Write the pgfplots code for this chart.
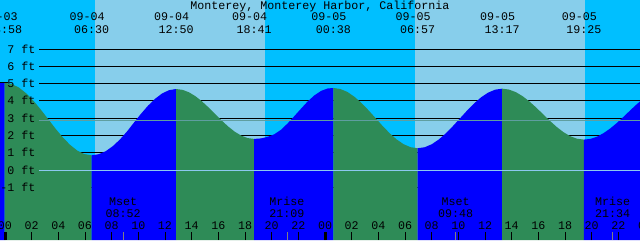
\documentclass[border=0pt]{standalone}
\usepackage{pgfplots}
\pgfplotsset{compat=1.18}
\usepackage{fontspec}
\setmainfont{Liberation Mono}
\definecolor{night}{RGB}{0,191,255}
\definecolor{day}{RGB}{135,206,235}
\definecolor{flood}{RGB}{0,0,255}
\definecolor{ebb}{RGB}{46,139,87}
\definecolor{msl}{RGB}{95,158,160}
\definecolor{datum}{RGB}{140,200,240}
\begin{document}
\begin{tikzpicture}[font=\fontsize{8.75}{10}\selectfont]
\useasboundingbox (0,0) rectangle (480pt,180pt);
\clip (0,0) rectangle (480pt,180pt);
\begin{axis}[
  at={(0,0)}, anchor=south west,
  scale only axis, width=480pt, height=180pt,
  xmin=-0.375, xmax=47.625, ymin=-4.053, ymax=9.844,
  axis background/.style={fill=night},
  axis line style={draw=none},
  axis on top,
  ytick=\empty,
  xtick={0,2,...,46},
  xticklabels={00,02,04,06,08,10,12,14,16,18,20,22,00,02,04,06,08,10,12,14,16,18,20,22},
  xtick pos=left,
  tick align=inside,
  major tick length=6pt,
  minor tick length=6pt,
  minor xtick={8.867,21.15,33.8,45.567},
  every minor tick/.append style={gray, line width=0.75pt},
  every major tick/.append style={black, line width=0.75pt},
  extra x ticks={0,24},
  extra x tick labels={,},
  extra x tick style={every major tick/.append style={line width=2.25pt}},
  xticklabel style={anchor=base, yshift=8pt, inner sep=0pt, text=black},
]
% daylight
\addplot[fill=day, draw=none] coordinates {(6.75,-4.053) (6.75,9.844) (19.5,9.844) (19.5,-4.053)} -- cycle;
\addplot[fill=day, draw=none] coordinates {(30.75,-4.053) (30.75,9.844) (43.5,9.844) (43.5,-4.053)} -- cycle;
% level lines
\addplot[black, line width=0.75pt] coordinates {(2.55,-1) (47.625,-1)};
\addplot[black, line width=0.75pt] coordinates {(2.55,0) (47.625,0)};
\addplot[black, line width=0.75pt] coordinates {(2.55,1) (47.625,1)};
\addplot[black, line width=0.75pt] coordinates {(2.55,2) (47.625,2)};
\addplot[black, line width=0.75pt] coordinates {(2.55,3) (47.625,3)};
\addplot[black, line width=0.75pt] coordinates {(2.55,4) (47.625,4)};
\addplot[black, line width=0.75pt] coordinates {(2.55,5) (47.625,5)};
\addplot[black, line width=0.75pt] coordinates {(2.55,6) (47.625,6)};
\addplot[black, line width=0.75pt] coordinates {(2.55,7) (47.625,7)};
% water: rising (flood) blue, falling (ebb) green
\addplot[fill=flood, draw=none] coordinates {(-0.375,-4.053) (-0.375,5.03) (-0.2,5.045) (-0.033,5.05) (-0.033,-4.053)} -- cycle;
\addplot[fill=ebb, draw=none] coordinates {(-0.033,-4.053) (-0.033,5.05) (0.511,4.978) (1.056,4.769) (1.600,4.435) (2.145,4.00) (2.689,3.494) (3.234,2.95) (3.778,2.407) (4.322,1.90) (4.867,1.465) (5.411,1.131) (5.956,0.922) (6.5,0.85) (6.5,-4.053)} -- cycle;
\addplot[fill=flood, draw=none] coordinates {(6.5,-4.053) (6.5,0.85) (7.028,0.915) (7.556,1.09) (8.083,1.38) (8.611,1.76) (9.139,2.22) (9.667,2.74) (10.194,3.25) (10.722,3.72) (11.25,4.12) (11.778,4.43) (12.306,4.625) (12.833,4.69) (12.833,-4.053)} -- cycle;
\addplot[fill=ebb, draw=none] coordinates {(12.833,-4.053) (12.833,4.69) (13.321,4.641) (13.808,4.496) (14.296,4.267) (14.783,3.968) (15.271,3.619) (15.758,3.245) (16.246,2.871) (16.733,2.523) (17.221,2.223) (17.708,1.994) (18.196,1.849) (18.683,1.80) (18.683,-4.053)} -- cycle;
\addplot[fill=flood, draw=none] coordinates {(18.683,-4.053) (18.683,1.80) (19.2,1.83) (19.7,1.92) (20.2,2.07) (20.7,2.33) (21.2,2.70) (21.7,3.12) (22.2,3.55) (22.7,3.97) (23.2,4.32) (23.7,4.58) (24.2,4.72) (24.633,4.75) (24.633,-4.053)} -- cycle;
\addplot[fill=ebb, draw=none] coordinates {(24.633,-4.053) (24.633,4.75) (25.159,4.69) (25.686,4.516) (26.212,4.239) (26.739,3.878) (27.265,3.457) (27.792,3.005) (28.318,2.553) (28.845,2.133) (29.371,1.771) (29.897,1.494) (30.424,1.32) (30.95,1.26) (30.95,-4.053)} -- cycle;
\addplot[fill=flood, draw=none] coordinates {(30.95,-4.053) (30.95,1.26) (31.478,1.319) (32.006,1.491) (32.533,1.765) (33.061,2.123) (33.589,2.539) (34.117,2.985) (34.644,3.431) (35.172,3.848) (35.7,4.205) (36.228,4.479) (36.756,4.651) (37.283,4.71) (37.283,-4.053)} -- cycle;
\addplot[fill=ebb, draw=none] coordinates {(37.283,-4.053) (37.283,4.71) (37.794,4.66) (38.305,4.512) (38.816,4.278) (39.328,3.973) (39.839,3.617) (40.35,3.235) (40.861,2.853) (41.372,2.498) (41.883,2.192) (42.394,1.958) (42.906,1.81) (43.417,1.76) (43.417,-4.053)} -- cycle;
\addplot[fill=flood, draw=none] coordinates {(43.417,-4.053) (43.417,1.76) (43.9,1.80) (44.4,1.93) (44.9,2.14) (45.4,2.41) (45.9,2.73) (46.4,3.09) (46.9,3.46) (47.4,3.82) (47.625,3.97) (47.625,-4.053)} -- cycle;
% mean sea level and datum lines
\addplot[msl, line width=0.75pt] coordinates {(2.55,2.88) (47.625,2.88)};
\addplot[datum, line width=0.75pt] coordinates {(2.55,0) (47.625,0)};
% high-water marker at left edge
\addplot[black, line width=0.75pt] coordinates {(-0.375,5.06) (0.225,5.06)};
% level labels
\node[anchor=base east, inner sep=0pt] at (axis cs:2.29,6.768) {7 ft};
\node[anchor=base east, inner sep=0pt] at (axis cs:2.29,5.768) {6 ft};
\node[anchor=base east, inner sep=0pt] at (axis cs:2.29,4.768) {5 ft};
\node[anchor=base east, inner sep=0pt] at (axis cs:2.29,3.768) {4 ft};
\node[anchor=base east, inner sep=0pt] at (axis cs:2.29,2.768) {3 ft};
\node[anchor=base east, inner sep=0pt] at (axis cs:2.29,1.768) {2 ft};
\node[anchor=base east, inner sep=0pt] at (axis cs:2.29,0.768) {1 ft};
\node[anchor=base east, inner sep=0pt] at (axis cs:2.29,-0.232) {0 ft};
\node[anchor=base east, inner sep=0pt] at (axis cs:2.29,-1.232) {-1 ft};
% title
\node[anchor=base, inner sep=0pt] at (axis cs:23.625,9.305) {Monterey, Monterey Harbor, California};
% tide event labels
\node[anchor=base, inner sep=0pt, xshift=-3.4pt] at (axis cs:-0.033,8.685) {09-03};
\node[anchor=base, inner sep=0pt] at (axis cs:-0.033,7.933) {23:58};
\node[anchor=base, inner sep=0pt, xshift=-3.4pt] at (axis cs:6.5,8.685) {09-04};
\node[anchor=base, inner sep=0pt] at (axis cs:6.5,7.933) {06:30};
\node[anchor=base, inner sep=0pt, xshift=-3.4pt] at (axis cs:12.833,8.685) {09-04};
\node[anchor=base, inner sep=0pt] at (axis cs:12.833,7.933) {12:50};
\node[anchor=base, inner sep=0pt, xshift=-3.4pt] at (axis cs:18.683,8.685) {09-04};
\node[anchor=base, inner sep=0pt] at (axis cs:18.683,7.933) {18:41};
\node[anchor=base, inner sep=0pt, xshift=-3.4pt] at (axis cs:24.633,8.685) {09-05};
\node[anchor=base, inner sep=0pt] at (axis cs:24.633,7.933) {00:38};
\node[anchor=base, inner sep=0pt, xshift=-3.4pt] at (axis cs:30.95,8.685) {09-05};
\node[anchor=base, inner sep=0pt] at (axis cs:30.95,7.933) {06:57};
\node[anchor=base, inner sep=0pt, xshift=-3.4pt] at (axis cs:37.283,8.685) {09-05};
\node[anchor=base, inner sep=0pt] at (axis cs:37.283,7.933) {13:17};
\node[anchor=base, inner sep=0pt, xshift=-3.4pt] at (axis cs:43.417,8.685) {09-05};
\node[anchor=base, inner sep=0pt] at (axis cs:43.417,7.933) {19:25};
% moon labels
\node[anchor=base, inner sep=0pt] at (axis cs:8.867,-2.067) {Mset};
\node[anchor=base, inner sep=0pt] at (axis cs:8.867,-2.74) {08:52};
\node[anchor=base, inner sep=0pt] at (axis cs:21.15,-2.067) {Mrise};
\node[anchor=base, inner sep=0pt] at (axis cs:21.15,-2.74) {21:09};
\node[anchor=base, inner sep=0pt] at (axis cs:33.8,-2.067) {Mset};
\node[anchor=base, inner sep=0pt] at (axis cs:33.8,-2.74) {09:48};
\node[anchor=base, inner sep=0pt] at (axis cs:45.567,-2.067) {Mrise};
\node[anchor=base, inner sep=0pt] at (axis cs:45.567,-2.74) {21:34};
\node[anchor=base, inner sep=0pt] at (axis cs:48,-3.43) {00};
\end{axis}
\end{tikzpicture}
\end{document}
